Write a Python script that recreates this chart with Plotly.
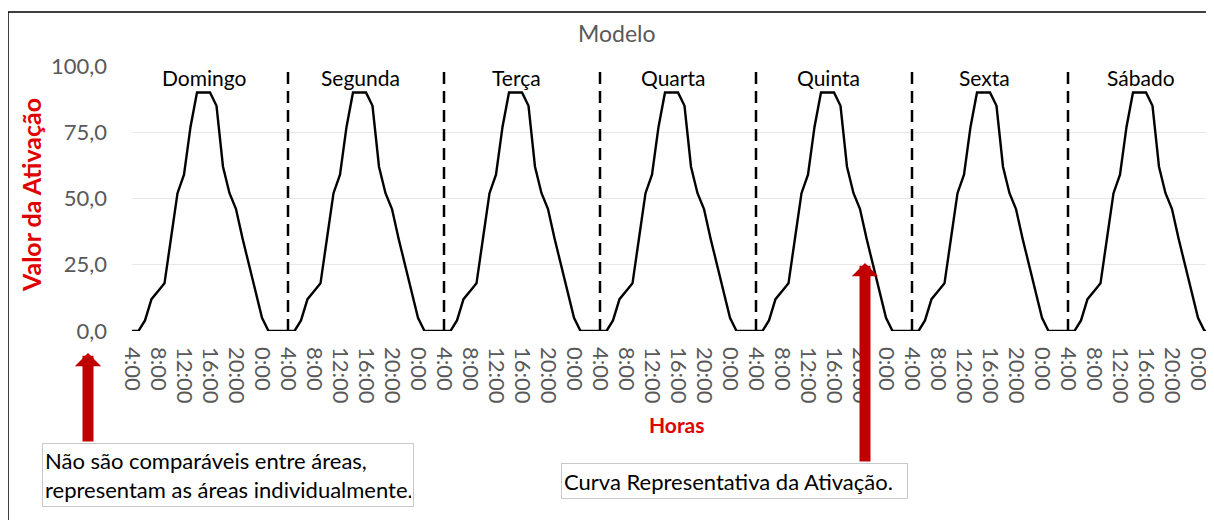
import plotly.graph_objects as go

# Curva representativa da ativação: valores horários de 4:00 a 3:00 (dia seguinte)
horas_dia = ["4:00", "5:00", "6:00", "7:00", "8:00", "9:00", "10:00", "11:00",
             "12:00", "13:00", "14:00", "15:00", "16:00", "17:00", "18:00", "19:00",
             "20:00", "21:00", "22:00", "23:00", "0:00", "1:00", "2:00", "3:00"]
perfil_diario = [0, 0, 4, 12, 15, 18, 35, 52, 59, 77, 90, 90,
                 90, 85, 62, 52, 46, 35, 25, 15, 5, 0, 0, 0]
dias = ["Domingo", "Segunda", "Terça", "Quarta", "Quinta", "Sexta", "Sábado"]

# o mesmo perfil se repete em todos os dias da semana
valores = []
for d in dias:
    valores += perfil_diario
horas = list(range(4, 4 + len(valores)))

tick_vals = horas[::4]
tick_text = [horas_dia[(h - 4) % 24] for h in tick_vals]

# a página desloca a figura 8 px (margem do body); coordenadas abaixo em px da tela
OFF = 8
W, H = 1214, 520
L, R, T, B = 132 - OFF, OFF, 66 - OFF, H - 331 + OFF
pw, ph = W - L - R, H - T - B


def px(x):
    return (x - OFF - L) / pw


def py(y):
    return (H - B - (y - OFF)) / ph


FONT = "Lato"
GRAY = "#595959"
RED = "#E00000"
DARKRED = "#C00000"

fig = go.Figure()
fig.add_trace(go.Scatter(x=horas, y=valores, mode="lines",
                         line=dict(color="black", width=2.4), showlegend=False))

# separadores entre os dias
for i in range(1, len(dias)):
    fig.add_shape(type="line", xref="x", yref="y", x0=4 + 24 * i, x1=4 + 24 * i,
                  y0=0, y1=100, line=dict(color="black", width=2.5, dash="12px,7px"))

# nomes dos dias
for i, d in enumerate(dias):
    fig.add_annotation(x=15.2 + 24 * i, y=95.5, text=d, showarrow=False,
                       font=dict(family=FONT, size=21, color="black"))

# moldura
fig.add_shape(type="rect", xref="paper", yref="paper", x0=px(8), x1=px(1240),
              y0=py(560), y1=py(12), line=dict(color="black", width=1.5), layer="below")

# títulos
fig.add_annotation(xref="paper", yref="paper", x=px(617), y=py(33), text="Modelo",
                   xanchor="center", yanchor="middle", showarrow=False,
                   font=dict(family=FONT, size=23, color=GRAY))
fig.add_annotation(xref="paper", yref="paper", x=px(31), y=py(195),
                   text="<b>Valor da Ativação</b>", textangle=-90, showarrow=False,
                   xanchor="center", yanchor="middle",
                   font=dict(family=FONT, size=25, color=RED))
fig.add_annotation(xref="paper", yref="paper", x=px(677), y=py(424), text="<b>Horas</b>",
                   xanchor="center", yanchor="middle", showarrow=False,
                   font=dict(family=FONT, size=21, color=RED))

# caixas de texto
fig.add_annotation(xref="paper", yref="paper", x=px(42), y=py(443), xanchor="left",
                   yanchor="top", text="Não são comparáveis entre áreas,<br>representam as áreas individualmente.",
                   align="left", showarrow=False, width=366, height=58, borderpad=2,
                   bordercolor="#C8C8C8", borderwidth=1, bgcolor="white",
                   font=dict(family=FONT, size=22, color="black"))
fig.add_annotation(xref="paper", yref="paper", x=px(561), y=py(463), xanchor="left",
                   yanchor="top", text="Curva Representativa da Ativação.",
                   align="left", showarrow=False, width=341, height=30, borderpad=2,
                   bordercolor="#C8C8C8", borderwidth=1, bgcolor="white",
                   font=dict(family=FONT, size=22, color="black"))

# setas
for xa, ytip, ytail in [(88, 353, 443), (865, 263, 463)]:
    fig.add_annotation(xref="paper", yref="paper", x=px(xa), y=py(ytip), text="",
                       showarrow=True, axref="pixel", ayref="pixel", ax=0, ay=ytail - ytip,
                       arrowhead=1, arrowwidth=11, arrowsize=0.4, arrowcolor=DARKRED,
                       standoff=0)

fig.update_layout(
    width=W, height=H,
    margin=dict(l=L, r=R, t=T, b=B),
    paper_bgcolor="white", plot_bgcolor="white",
    separators=",.",
    font=dict(family=FONT, color=GRAY),
    xaxis=dict(range=[4, 4 + pw / 6.5], tickvals=tick_vals, ticktext=tick_text,
               tickangle=90, tickfont=dict(size=22, color=GRAY), showgrid=False,
               zeroline=False, showline=False, ticks="", ticklabelstandoff=15),
    yaxis=dict(range=[0, 100], tickvals=[0, 25, 50, 75, 100], tickformat=".1f",
               tickfont=dict(size=22, color=GRAY), gridcolor="#E8E8E8", gridwidth=1,
               zeroline=False, showline=False, ticks="", ticklabelstandoff=24),
)

fig.write_html("out.html")
